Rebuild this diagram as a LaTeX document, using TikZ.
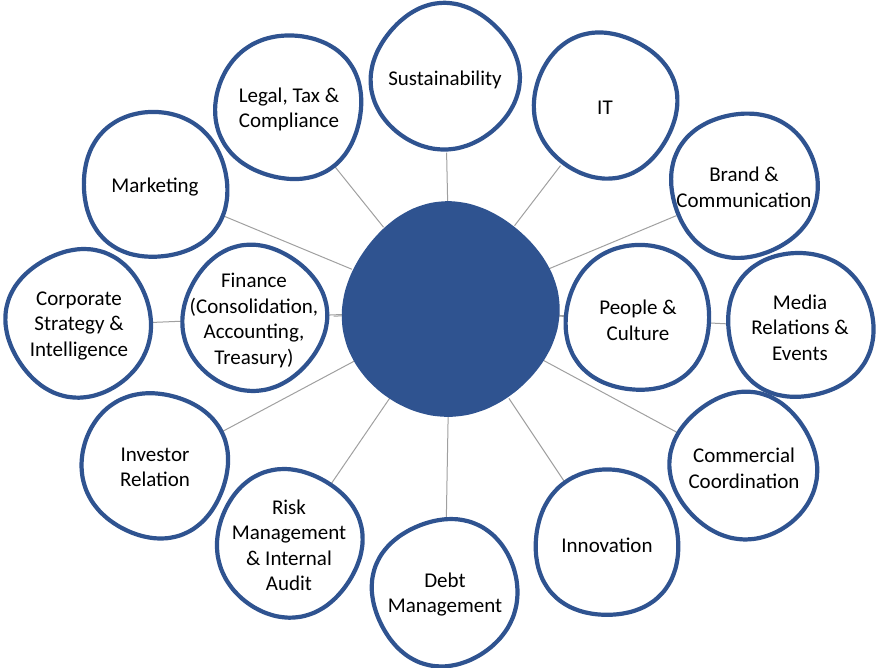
\documentclass[tikz,border=0pt]{standalone}
\usepackage{fontspec}
\setmainfont{Carlito}
\definecolor{dblue}{HTML}{2F5390}
\definecolor{lgray}{HTML}{A0A0A0}
\pgfdeclarelayer{lines}
\pgfdeclarelayer{shapes}
\pgfsetlayers{lines,shapes,main}
\tikzset{
  declare function={wr(\ang,\p)=1+0.014*cos(4*\ang+\p)+0.012*sin(3*\ang+2*\p)+0.01*cos(2*\ang+3*\p);},
  bub/.style={circle, inner sep=0pt, minimum size=146pt, align=center,
    font=\fontsize{21}{25.5}\selectfont, text=black, yshift=-2.5pt},
  hub/.style={circle, inner sep=0pt, minimum size=212pt},
  conn/.style={draw=lgray, line width=1pt},
  ring/.style={draw=dblue, line width=4.2pt, fill=white},
  hubring/.style={draw=dblue, line width=2pt, fill=dblue},
}
\newcommand\wobring[5]{%
  \begin{pgfonlayer}{shapes}
  \draw[#5] plot[smooth cycle, samples=36, domain=0:350, variable=\ang]
    ({#1+#3*wr(\ang,#4)*cos(\ang)},{#2+#3*wr(\ang,#4)*sin(\ang)});
  \end{pgfonlayer}}
\begin{document}
\begin{tikzpicture}[x=1pt,y=-1pt]
\useasboundingbox (0,0) rectangle (876,668);
% hub
\node[hub] (c) at (450,310) {};
\wobring{450}{310}{106}{20}{hubring}
% bubbles
\node[bub] (sus) at (445,77) {Sustainability};
\wobring{445}{77}{73}{10}{ring}
\node[bub] (it) at (605,105) {IT};
\wobring{605}{105}{72}{70}{ring}
\node[bub] (leg) at (289,107) {Legal, Tax \&\\Compliance};
\wobring{289}{107}{73}{130}{ring}
\node[bub] (mk) at (155,185) {Marketing};
\wobring{155}{185}{73}{200}{ring}
\node[bub] (br) at (744,185) {Brand \&\\Communication};
\wobring{744}{185}{73}{250}{ring}
\node[bub] (cs) at (79,323) {Corporate\\Strategy \&\\Intelligence};
\wobring{79}{323}{73}{300}{ring}
\node[bub] (fin) at (254,318) {Finance\\(Consolidation,\\Accounting,\\Treasury)};
\wobring{254}{318}{72}{40}{ring}
\node[bub] (pc) at (638,318) {People \&\\Culture};
\wobring{638}{318}{73}{160}{ring}
\node[bub] (med) at (800,325) {Media\\Relations \&\\Events};
\wobring{800}{325}{73}{220}{ring}
\node[bub] (inv) at (155,465) {Investor\\Relation};
\wobring{155}{465}{73}{100}{ring}
\node[bub] (com) at (744,466) {Commercial\\Coordination};
\wobring{744}{466}{73}{330}{ring}
\node[bub] (risk) at (289,543) {Risk\\Management\\\& Internal\\Audit};
\wobring{289}{543}{73}{60}{ring}
\node[bub] (inn) at (607,543) {Innovation};
\wobring{607}{543}{73}{180}{ring}
\node[bub] (debt) at (445,592) {Debt\\Management};
\wobring{445}{592}{73}{280}{ring}
% connectors
\begin{pgfonlayer}{lines}
\foreach \b in {sus,it,leg,mk,br,cs,fin,pc,med,inv,com,risk,inn,debt}
  \draw[conn] (c) -- (\b);
\end{pgfonlayer}
\end{tikzpicture}
\end{document}
